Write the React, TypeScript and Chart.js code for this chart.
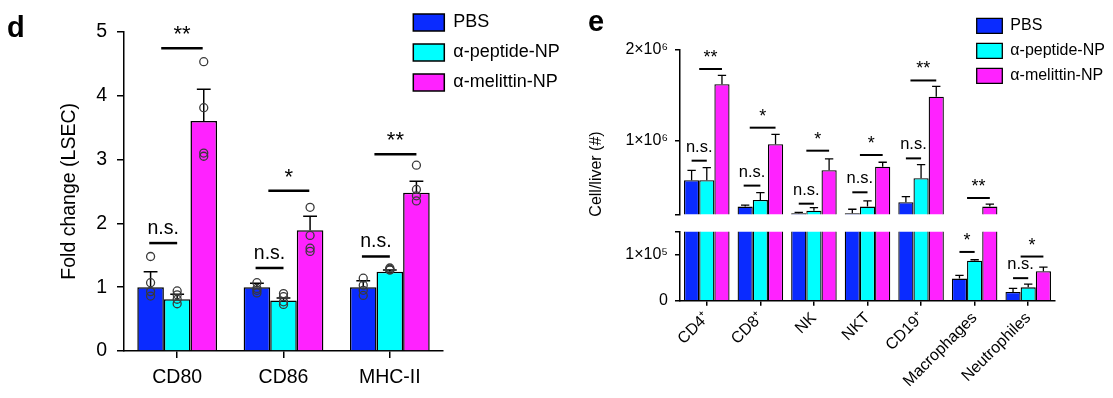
import React, { useEffect, useRef } from 'react';
import { Chart, registerables } from 'chart.js';

Chart.register(...registerables);

const FONT = '"Liberation Sans", Arial, Helvetica, sans-serif';
Chart.defaults.font.family = FONT;
Chart.defaults.color = '#000';

// ---------------- shared ----------------
const seriesNames = ['PBS', 'α-peptide-NP', 'α-melittin-NP'];
const seriesColors = ['#0a2bff', '#00ffff', '#ff22ff'];

// ---------------- panel d data ----------------
const dCategories = ['CD80', 'CD86', 'MHC-II'];
const dPBS = [1.0, 1.0, 1.0];
const dPeptide = [0.81, 0.79, 1.24];
const dMelittin = [3.6, 1.89, 2.48];
const dPBSErr = [0.24, 0.06, 0.1];
const dPeptideErr = [0.08, 0.04, 0.03];
const dMelittinErr = [0.5, 0.22, 0.18];
const dPBSPoints = [
  [1.48, 1.07, 0.93, 0.86],
  [1.07, 0.98, 0.95, 0.91],
  [1.14, 1.03, 0.95, 0.87],
];
const dPeptidePoints = [
  [0.94, 0.88, 0.81, 0.74],
  [0.9, 0.85, 0.77, 0.73],
  [1.3, 1.28, 1.27, 1.27],
];
const dMelittinPoints = [
  [4.53, 3.81, 3.1, 3.05],
  [2.25, 1.81, 1.61, 1.56],
  [2.91, 2.53, 2.43, 2.35],
];
const dYMin = 0;
const dYMax = 5;
const dYStep = 1;
// significance brackets (category, from bar, to bar, height, label)
const dSigCats = [0, 0, 1, 1, 2, 2];
const dSigFrom = [-0.05, 0.4, -0.05, 0.43, -0.05, 0.42];
const dSigTo = [1, 1.96, 1, 1.97, 1, 2];
const dSigY = [1.69, 4.74, 1.3, 2.51, 1.48, 3.08];
const dSigLabels = ['n.s.', '**', 'n.s.', '*', 'n.s.', '**'];

// ---------------- panel e data ----------------
const eCategories = ['CD4⁺', 'CD8⁺', 'NK', 'NKT', 'CD19⁺', 'Macrophages', 'Neutrophiles'];
const ePBS = [571000, 284000, 212000, 212000, 331000, 48000, 19000];
const ePeptide = [571000, 357000, 240000, 284000, 593000, 87000, 29000];
const eMelittin = [1618000, 964000, 680000, 720000, 1483000, 284000, 64000];
const ePBSErr = [109000, 16000, 8000, 43000, 62000, 7000, 8000];
const ePeptideErr = [139000, 80000, 33000, 62000, 150000, 2000, 7000];
const eMelittinErr = [98000, 109000, 124000, 48000, 113000, 26000, 9000];
const eUpperTicks = [200000, 1000000, 2000000];
const eUpperTickLabels = ['', '1×10⁶', '2×10⁶'];
const eLowerTicks = [0, 100000, 150000];
const eLowerTickLabels = ['0', '1×10⁵', ''];
const eSigCats = [0, 0, 1, 1, 2, 2, 3, 3, 4, 4, 5, 5, 6, 6];
const eSigFrom = [0, 0.5, -0.1, 0.3, 0, 0.5, 0, 0.5, 0, 0.3, 0, 0.5, 0, 0.5];
const eSigTo = [1, 2, 1, 2, 1, 2, 1, 2, 1, 2, 1, 2, 1, 2];
const eSigY = [785000, 1785000, 513000, 1145000, 316000, 894000, 440000, 847000, 810000, 1660000, 106000, 378000, 49000, 96000];
const eSigLabels = ['n.s.', '**', 'n.s.', '*', 'n.s.', '*', 'n.s.', '*', 'n.s.', '**', '*', '**', 'n.s.', '*'];

// ---------------- plugins ----------------
function errPlugin(errors: number[][], capRatio: number, lw: number) {
  return {
    id: 'errBars',
    afterDatasetDraw(chart: any, args: any) {
      const meta = args.meta;
      if (meta.type !== 'bar') return;
      const errs = errors[args.index];
      if (!errs) return;
      const ctx = chart.ctx;
      const area = chart.chartArea;
      const y = chart.scales[meta.yAxisID];
      const ds = chart.data.datasets[args.index];
      ctx.save();
      ctx.beginPath();
      ctx.rect(area.left, area.top - 1, area.right - area.left, area.bottom - area.top + 1);
      ctx.clip();
      ctx.strokeStyle = '#000';
      ctx.lineWidth = lw;
      meta.data.forEach((el: any, i: number) => {
        const v = ds.data[i];
        const top = y.getPixelForValue(v + errs[i]);
        const half = (el.width * capRatio) / 2;
        ctx.beginPath();
        ctx.moveTo(el.x, el.y);
        ctx.lineTo(el.x, top);
        ctx.moveTo(el.x - half, top);
        ctx.lineTo(el.x + half, top);
        ctx.stroke();
      });
      ctx.restore();
    },
  };
}

function sigPlugin(
  cats: number[], from: number[], to: number[], ys: number[], labels: string[],
  o: { lw: number; nsFont: string; starFont: string; gap: number; starGap: number }
) {
  return {
    id: 'sigMarks',
    afterDatasetsDraw(chart: any) {
      const ctx = chart.ctx;
      const xs = chart.scales.x;
      const ysc = chart.scales.y;
      const meta0 = chart.getDatasetMeta(0);
      ctx.save();
      for (let i = 0; i < cats.length; i++) {
        const v = ys[i];
        if (v < ysc.min || v > ysc.max) continue;
        const cx = xs.getPixelForValue(cats[i]);
        const bw = meta0.data[cats[i]].width;
        const x1 = cx + (from[i] - 1) * bw;
        const x2 = cx + (to[i] - 1) * bw;
        const py = ysc.getPixelForValue(v);
        ctx.strokeStyle = '#000';
        ctx.lineWidth = o.lw;
        ctx.beginPath();
        ctx.moveTo(x1, py);
        ctx.lineTo(x2, py);
        ctx.stroke();
        const star = labels[i].startsWith('*');
        ctx.font = star ? o.starFont : o.nsFont;
        ctx.fillStyle = '#000';
        ctx.textAlign = 'center';
        ctx.textBaseline = 'alphabetic';
        ctx.fillText(labels[i], (x1 + x2) / 2, py - (star ? o.starGap : o.gap));
      }
      ctx.restore();
    },
  };
}

type TextItem = { text: string; x: number; y: number; font: string; rotation?: number; align?: CanvasTextAlign; baseline?: CanvasTextBaseline };
function textPlugin(items: TextItem[]) {
  return {
    id: 'textMarks',
    afterDraw(chart: any) {
      const ctx = chart.ctx;
      items.forEach((t) => {
        ctx.save();
        ctx.translate(t.x, t.y);
        if (t.rotation) ctx.rotate(t.rotation);
        ctx.font = t.font;
        ctx.fillStyle = '#000';
        ctx.textAlign = t.align || 'left';
        ctx.textBaseline = t.baseline || 'alphabetic';
        ctx.fillText(t.text, 0, 0);
        ctx.restore();
      });
    },
  };
}

function legendPosPlugin(left: number, top: number) {
  return {
    id: 'legendPos',
    afterLayout(chart: any) {
      const lg = chart.legend;
      if (!lg) return;
      lg.left = left;
      lg.top = top;
      lg.right = left + lg.width + 40;
      lg.bottom = top + lg.height;
    },
  };
}

const font = (size: number, bold = false) => `${bold ? 'bold ' : ''}${size}px ${FONT}`;

// ---------------- panel d ----------------
const D_CP = 0.75;
const D_PAD = { left: 124, top: 31.7, right: 137, bottom: 47 };

function makeDConfig(): any {
  const bars = [dPBS, dPeptide, dMelittin].map((vals, i) => ({
    type: 'bar',
    label: seriesNames[i],
    data: vals,
    backgroundColor: seriesColors[i],
    borderColor: '#000',
    borderWidth: 1.5,
    categoryPercentage: D_CP,
    barPercentage: 1,
  }));
  return {
    type: 'bar',
    data: { labels: dCategories, datasets: bars },
    options: {
      responsive: false,
      animation: false,
      devicePixelRatio: 1,
      layout: { padding: { left: 0, top: D_PAD.top, right: D_PAD.right, bottom: 0 } },
      plugins: {
        legend: {
          display: true,
          position: 'chartArea',
          fullSize: false,
          align: 'start',
          labels: {
            boxWidth: 31,
            boxHeight: 17,
            padding: 12,
            color: '#000',
            font: { family: FONT, size: 18 },
          },
        },
        tooltip: { enabled: false },
      },
      scales: {
        x: {
          type: 'category',
          offset: true,
          grid: { display: true, offset: false, drawOnChartArea: false, drawTicks: true, tickLength: 7, color: '#000', lineWidth: 1.5 },
          border: { display: true, color: '#000', width: 1.5 },
          ticks: { color: '#000', font: { family: FONT, size: 19.5 }, padding: 8, maxRotation: 0 },
          afterFit: (s: any) => { s.height = D_PAD.bottom; },
        },
        y: {
          min: dYMin,
          max: dYMax,
          ticks: { stepSize: dYStep, color: '#000', font: { family: FONT, size: 19.5 }, padding: 10 },
          grid: { drawOnChartArea: false, tickLength: 7, color: '#000', lineWidth: 1.5 },
          border: { display: true, color: '#000', width: 1.5 },
          title: { display: true, text: 'Fold change (LSEC)', color: '#000', font: { family: FONT, size: 19.5 }, padding: { top: 58, bottom: 0 } },
          afterFit: (s: any) => { s.width = D_PAD.left; },
        },
      },
    },
    plugins: [
      errPlugin([dPBSErr, dPeptideErr, dMelittinErr], 0.52, 1.5),
      sigPlugin(dSigCats, dSigFrom, dSigTo, dSigY, dSigLabels, {
        lw: 2.5, nsFont: font(19.5), starFont: font(22), gap: 9, starGap: 7,
      }),
      textPlugin([{ text: 'd', x: 7, y: 37, font: font(29, true) }]),
      legendPosPlugin(401.3, 1.5),
    ],
  };
}

// individual replicate points, drawn on an overlay with the same plot area
function makeDPointsConfig(): any {
  const points = [dPBSPoints, dPeptidePoints, dMelittinPoints].map((pts, b) => ({
    label: seriesNames[b],
    data: pts.flatMap((vals, c) => vals.map((v) => ({ x: c + ((b - 1) * D_CP) / 3, y: v }))),
    pointRadius: 4,
    pointBorderWidth: 1.3,
    pointBorderColor: '#3a3a3a',
    pointBackgroundColor: 'rgba(0,0,0,0)',
    showLine: false,
  }));
  return {
    type: 'scatter',
    data: { datasets: points },
    options: {
      responsive: false,
      animation: false,
      devicePixelRatio: 1,
      layout: { padding: D_PAD },
      plugins: { legend: { display: false }, tooltip: { enabled: false } },
      scales: {
        x: { type: 'linear', display: false, offset: false, min: -0.5, max: dCategories.length - 0.5 },
        y: { type: 'linear', display: false, min: dYMin, max: dYMax },
      },
    },
  };
}

// ---------------- panel e ----------------
const E_CP = 0.85;
function eBars() {
  return [ePBS, ePeptide, eMelittin].map((vals, i) => ({
    type: 'bar',
    label: seriesNames[i],
    data: vals,
    backgroundColor: seriesColors[i],
    borderColor: '#000',
    borderWidth: 1.3,
    categoryPercentage: E_CP,
    barPercentage: 1,
    clip: 0,
  }));
}

function eYAxis(min: number, max: number, tickVals: number[], tickLabels: string[]) {
  return {
    min,
    max,
    afterBuildTicks: (s: any) => { s.ticks = tickVals.map((v) => ({ value: v })); },
    ticks: {
      color: '#000',
      font: { family: FONT, size: 16 },
      padding: 7,
      callback: (v: any) => {
        const k = tickVals.indexOf(Number(v));
        return k >= 0 ? tickLabels[k] : '';
      },
    },
    grid: { drawOnChartArea: false, tickLength: 5, color: '#000', lineWidth: 1.5 },
    border: { display: true, color: '#000', width: 1.5 },
    afterFit: (s: any) => { s.width = 120; },
  };
}

const eSigOpts = { lw: 2, nsFont: font(16.5), starFont: font(18), gap: 9, starGap: 6 };
const eErrors = [ePBSErr, ePeptideErr, eMelittinErr];

function makeEUpperConfig(): any {
  return {
    type: 'bar',
    data: { labels: eCategories, datasets: eBars() },
    options: {
      responsive: false,
      animation: false,
      devicePixelRatio: 1,
      layout: { padding: { left: 0, top: 49.3, right: 58, bottom: 183.7 } },
      plugins: {
        legend: {
          display: true,
          position: 'chartArea',
          fullSize: false,
          align: 'start',
          labels: { boxWidth: 25.6, boxHeight: 15, padding: 9, color: '#000', font: { family: FONT, size: 16 } },
        },
        tooltip: { enabled: false },
      },
      scales: {
        x: { type: 'category', offset: true, display: false },
        y: eYAxis(eUpperTicks[0], eUpperTicks[eUpperTicks.length - 1], eUpperTicks, eUpperTickLabels),
      },
    },
    plugins: [
      errPlugin(eErrors, 0.55, 1.3),
      sigPlugin(eSigCats, eSigFrom, eSigTo, eSigY, eSigLabels, eSigOpts),
      textPlugin([
        { text: 'e', x: 28, y: 31, font: font(29, true) },
        { text: 'Cell/liver (#)', x: 37, y: 174, font: font(16), rotation: -Math.PI / 2, align: 'center', baseline: 'middle' },
      ]),
      legendPosPlugin(407.7, 8.8),
    ],
  };
}

function makeELowerConfig(): any {
  return {
    type: 'bar',
    data: { labels: eCategories, datasets: eBars() },
    options: {
      responsive: false,
      animation: false,
      devicePixelRatio: 1,
      layout: { padding: { left: 0, top: 231.7, right: 58, bottom: 0 } },
      plugins: { legend: { display: false }, tooltip: { enabled: false } },
      scales: {
        x: {
          type: 'category',
          offset: true,
          grid: { display: true, offset: false, drawOnChartArea: false, drawTicks: true, tickLength: 5, color: '#000', lineWidth: 1.5 },
          border: { display: true, color: '#000', width: 1.5 },
          ticks: { color: '#000', font: { family: FONT, size: 16 }, padding: 3, autoSkip: false, minRotation: 45, maxRotation: 45 },
          afterFit: (s: any) => { s.height = 97.3; },
        },
        y: eYAxis(eLowerTicks[0], eLowerTicks[eLowerTicks.length - 1], eLowerTicks, eLowerTickLabels),
      },
    },
    plugins: [
      errPlugin(eErrors, 0.55, 1.3),
      sigPlugin(eSigCats, eSigFrom, eSigTo, eSigY, eSigLabels, eSigOpts),
    ],
  };
}

// ---------------- components ----------------
function ChartCanvas({ make, left, width, height }: { make: () => any; left: number; width: number; height: number }) {
  const ref = useRef<HTMLCanvasElement>(null);
  useEffect(() => {
    const chart = new Chart(ref.current as HTMLCanvasElement, make());
    return () => chart.destroy();
  }, [make]);
  return (
    <canvas
      ref={ref}
      width={width}
      height={height}
      style={{ position: 'absolute', left, top: 0, width, height }}
    />
  );
}

export default function App() {
  return (
    <div style={{ position: 'fixed', left: 0, top: 0, width: 1113, height: 398, background: '#fff', overflow: 'hidden' }}>
      <ChartCanvas make={makeDConfig} left={0} width={580} height={398} />
      <ChartCanvas make={makeDPointsConfig} left={0} width={580} height={398} />
      <ChartCanvas make={makeEUpperConfig} left={560} width={553} height={398} />
      <ChartCanvas make={makeELowerConfig} left={560} width={553} height={398} />
    </div>
  );
}
